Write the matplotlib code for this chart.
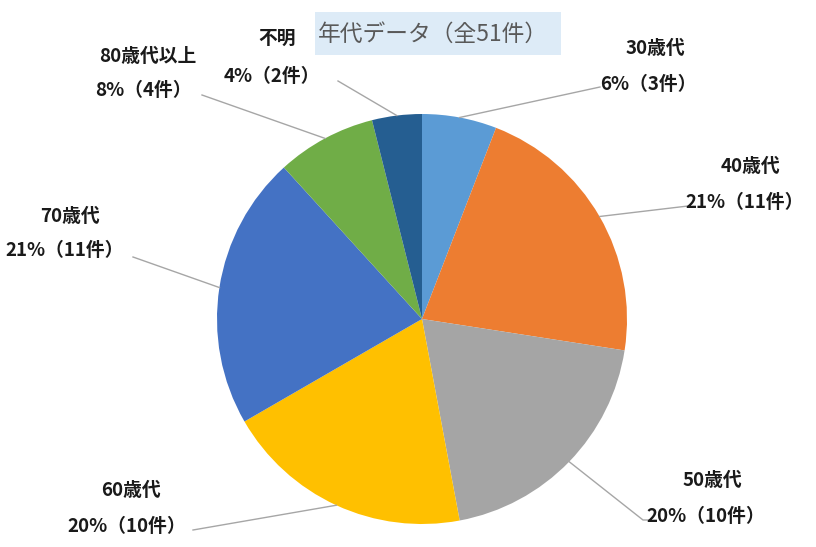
import numpy as np
import matplotlib.pyplot as plt
from matplotlib.patches import Rectangle

plt.rcParams['font.family'] = ['Noto Sans CJK JP', 'DejaVu Sans']

# data
categories = ['30歳代', '40歳代', '50歳代', '60歳代', '70歳代', '80歳代以上', '不明']
counts = [3, 11, 10, 10, 11, 4, 2]
percents = [6, 21, 20, 20, 21, 8, 4]   # as printed on the chart
colors = ['#5B9BD5', '#ED7D31', '#A5A5A5', '#FFC000', '#4472C4', '#70AD47', '#255E91']
title = '年代データ（全51件）'

# layout (pixel coords, y from top)
W, H = 816, 547
cx, cy, r = 422, 319, 205
# centres of the two label lines, and where the leader line ends
name_pos = [(655, 49), (750, 166), (712, 481), (131, 490), (70, 216), (148, 56), (277, 38)]
pct_pos = [(648, 84), (745, 203), (706, 517), (127, 527), (65, 251), (143, 91), (272, 76)]
line_end = [(600, 87), (688, 206), (643, 520), (193, 530), (133, 257), (202, 95), (338, 81)]

fig = plt.figure(figsize=(W / 100, H / 100), dpi=100)
ax = fig.add_axes([0, 0, 1, 1])

def fy(y):
    return H - y

total = sum(counts)
ax.pie(counts, colors=colors, startangle=90, counterclock=False,
       center=(cx, fy(cy)), radius=r, frame=True,
       wedgeprops=dict(edgecolor='none', linewidth=0))
ax.set_xlim(0, W)
ax.set_ylim(0, H)
ax.set_aspect('equal')
ax.axis('off')

# leader lines and labels
cum = 0
for i, n in enumerate(counts):
    mid = 90 - (cum + n / 2) / total * 360
    cum += n
    x0 = cx + r * np.cos(np.radians(mid))
    y0 = cy - r * np.sin(np.radians(mid))
    ex, ey = line_end[i]
    if i == 2:
        # 50s line bends to horizontal
        ax.plot([x0, ex, ex + 6], [fy(y0), fy(ey), fy(ey)], color='#A6A6A6', lw=1)
    else:
        ax.plot([x0, ex], [fy(y0), fy(ey)], color='#A6A6A6', lw=1)
    nx, ny = name_pos[i]
    px, py = pct_pos[i]
    ax.text(nx, fy(ny), categories[i], ha='center', va='center',
            fontsize=13.5, fontweight='bold', color='#1a1a1a')
    ax.text(px, fy(py), f'{percents[i]}%（{n}件）', ha='center', va='center',
            fontsize=13.5, fontweight='bold', color='#1a1a1a')

# title box
ax.add_patch(Rectangle((315, fy(55)), 246, 43, facecolor='#DDEBF7', edgecolor='none', zorder=1))
ax.text(433, fy(34), title, ha='center', va='center', fontsize=16.4, color='#595959', zorder=2)

fig.savefig('out.png', dpi=100)
